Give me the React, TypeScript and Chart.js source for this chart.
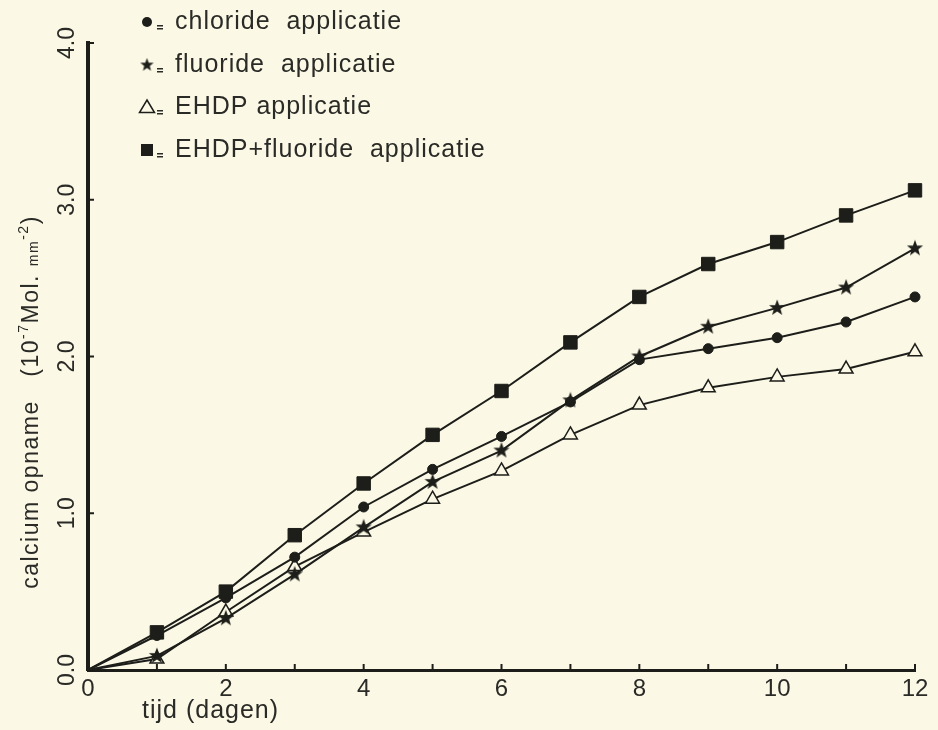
import React, { useEffect, useRef } from "react";
import { Chart, registerables } from "chart.js";

Chart.register(...registerables);

// ---- data ----
const days = [0, 1, 2, 3, 4, 5, 6, 7, 8, 9, 10, 11, 12];
const chloride = [0, 0.22, 0.46, 0.72, 1.04, 1.28, 1.49, 1.71, 1.98, 2.05, 2.12, 2.22, 2.38];
const fluoride = [0, 0.09, 0.33, 0.61, 0.91, 1.2, 1.4, 1.72, 2.0, 2.19, 2.31, 2.44, 2.69];
const ehdp = [0, 0.07, 0.37, 0.66, 0.88, 1.09, 1.27, 1.5, 1.69, 1.8, 1.87, 1.92, 2.03];
const ehdpFluoride = [0, 0.24, 0.5, 0.86, 1.19, 1.5, 1.78, 2.09, 2.38, 2.59, 2.73, 2.9, 3.06];

const xLabelDays = [0, 2, 4, 6, 8, 10, 12];
const yTickValues = [0, 1, 2, 3, 4];
const legendLabels = [
  "chloride  applicatie",
  "fluoride  applicatie",
  "EHDP applicatie",
  "EHDP+fluoride  applicatie",
];
const xTitle = "tijd (dagen)";
const yTitleParts = [
  { t: "calcium opname   (10", sup: false, small: false },
  { t: "-7", sup: true, small: true },
  { t: "Mol. ", sup: false, small: false },
  { t: "mm", sup: false, small: true },
  { t: "-2", sup: true, small: true },
  { t: ")", sup: false, small: false },
];

const BG = "#fbf9e6";
const INK = "#1d1d19";
const FONT = "'Liberation Sans', Arial, Helvetica, sans-serif";

function makeStar(size: number, outer: number, inner: number) {
  const c = document.createElement("canvas");
  c.width = size;
  c.height = size;
  const ctx = c.getContext("2d")!;
  ctx.fillStyle = INK;
  ctx.beginPath();
  for (let i = 0; i < 10; i++) {
    const r = i % 2 === 0 ? outer : inner;
    const a = -Math.PI / 2 + (i * Math.PI) / 5;
    const x = size / 2 + r * Math.cos(a);
    const y = size / 2 + r * Math.sin(a);
    if (i === 0) ctx.moveTo(x, y);
    else ctx.lineTo(x, y);
  }
  ctx.closePath();
  ctx.fill();
  return c;
}

function radii(r: number) {
  return days.map((d) => (d === 0 ? 0 : r));
}

export default function App() {
  const ref = useRef<HTMLCanvasElement | null>(null);

  useEffect(() => {
    const canvas = ref.current;
    if (!canvas) return;
    const star = makeStar(18, 8.5, 3.5);
    const legendStar = makeStar(15, 7, 2.9);

    const decor = {
      id: "decor",
      beforeDraw(chart: any) {
        const ctx = chart.ctx;
        ctx.save();
        ctx.fillStyle = BG;
        ctx.fillRect(0, 0, chart.width, chart.height);
        ctx.restore();
      },
      afterDraw(chart: any) {
        const ctx = chart.ctx;
        const xs = chart.scales.x;
        const ys = chart.scales.y;
        const area = chart.chartArea;
        ctx.save();
        ctx.strokeStyle = INK;
        ctx.lineWidth = 2;
        // x tick marks (pointing up into the plot)
        for (const d of days) {
          const px = xs.getPixelForValue(d);
          ctx.beginPath();
          ctx.moveTo(px, area.bottom);
          ctx.lineTo(px, area.bottom - 6);
          ctx.stroke();
        }
        // y tick marks (pointing right)
        for (const v of yTickValues) {
          if (v === 0) continue;
          const py = ys.getPixelForValue(v);
          ctx.beginPath();
          ctx.moveTo(area.left, py);
          ctx.lineTo(area.left + 6, py);
          ctx.stroke();
        }

        // x title
        ctx.fillStyle = "#2a2a26";
        ctx.font = `25px ${FONT}`;
        (ctx as any).letterSpacing = "1px";
        ctx.textBaseline = "middle";
        ctx.textAlign = "left";
        ctx.fillText(xTitle, 142, 711);

        // y title (rotated)
        ctx.save();
        ctx.translate(30, 402);
        ctx.rotate(-Math.PI / 2);
        (ctx as any).letterSpacing = "1.5px";
        ctx.textBaseline = "alphabetic";
        let total = 0;
        const widths: number[] = [];
        for (const p of yTitleParts) {
          ctx.font = `${p.small ? 14 : 23}px ${FONT}`;
          const w = ctx.measureText(p.t).width;
          widths.push(w);
          total += w;
        }
        let cx = -total / 2;
        yTitleParts.forEach((p, i) => {
          ctx.font = `${p.small ? 14 : 23}px ${FONT}`;
          ctx.fillText(p.t, cx, p.sup ? -2 : 8);
          cx += widths[i];
        });
        ctx.restore();

        // legend
        const rowY = [22, 65, 107, 150];
        const mx = 147;
        rowY.forEach((y, i) => {
          ctx.fillStyle = INK;
          ctx.strokeStyle = INK;
          if (i === 0) {
            ctx.beginPath();
            ctx.arc(mx, y, 5, 0, Math.PI * 2);
            ctx.fill();
          } else if (i === 1) {
            ctx.drawImage(legendStar, mx - 7.5, y - 7.5);
          } else if (i === 2) {
            ctx.lineWidth = 1.5;
            ctx.beginPath();
            ctx.moveTo(mx, y - 7);
            ctx.lineTo(mx + 7.5, y + 5.5);
            ctx.lineTo(mx - 7.5, y + 5.5);
            ctx.closePath();
            ctx.stroke();
          } else {
            ctx.fillRect(mx - 6, y - 6, 12, 12);
          }
          // small "=" sign
          ctx.fillStyle = "#2a2a26";
          ctx.fillRect(mx + 10, y + 3, 6, 1.5);
          ctx.fillRect(mx + 10, y + 6, 6, 1.5);
          ctx.font = `25px ${FONT}`;
          (ctx as any).letterSpacing = "1px";
          ctx.textBaseline = "middle";
          ctx.textAlign = "left";
          ctx.fillText(legendLabels[i], 175, y);
        });
        ctx.restore();
      },
    };

    const mk = (data: number[]) => days.map((d, i) => ({ x: d, y: data[i] }));

    const chart = new Chart(canvas, {
      type: "line",
      data: {
        datasets: [
          {
            label: legendLabels[3],
            data: mk(ehdpFluoride),
            borderColor: INK,
            borderWidth: 2,
            pointStyle: "rect",
            pointRadius: radii(9.5),
            pointBackgroundColor: INK,
            pointBorderColor: INK,
            pointBorderWidth: 1,
            clip: false,
          },
          {
            label: legendLabels[1],
            data: mk(fluoride),
            borderColor: INK,
            borderWidth: 2,
            pointStyle: star as any,
            pointRadius: radii(7),
            pointBackgroundColor: INK,
            clip: false,
          },
          {
            label: legendLabels[0],
            data: mk(chloride),
            borderColor: INK,
            borderWidth: 2,
            pointStyle: "circle",
            pointRadius: radii(5),
            pointBackgroundColor: INK,
            pointBorderColor: INK,
            pointBorderWidth: 1,
            clip: false,
          },
          {
            label: legendLabels[2],
            data: mk(ehdp),
            borderColor: INK,
            borderWidth: 2,
            pointStyle: "triangle",
            pointRadius: radii(8),
            pointBackgroundColor: BG,
            pointBorderColor: INK,
            pointBorderWidth: 1.5,
            clip: false,
          },
        ],
      },
      options: {
        responsive: false,
        animation: false,
        layout: { padding: { left: 0, right: 23, top: 43, bottom: 0 } },
        plugins: {
          legend: { display: false },
          tooltip: { enabled: false },
        },
        scales: {
          x: {
            type: "linear",
            min: 0,
            max: 12,
            afterFit: (s: any) => {
              s.height = 60;
            },
            afterBuildTicks: (s: any) => {
              s.ticks = xLabelDays.map((v) => ({ value: v }));
            },
            ticks: {
              autoSkip: false,
              maxRotation: 0,
              padding: 5,
              color: "#2a2a26",
              font: { size: 24, family: FONT },
              callback: (v: any) => String(v),
            },
            grid: { display: true, drawOnChartArea: false, drawTicks: false },
            border: { display: true, color: INK, width: 3 },
          },
          y: {
            type: "linear",
            min: 0,
            max: 4,
            afterFit: (s: any) => {
              s.width = 88;
            },
            afterBuildTicks: (s: any) => {
              s.ticks = yTickValues.map((v) => ({ value: v }));
            },
            ticks: {
              autoSkip: false,
              minRotation: 90,
              maxRotation: 90,
              crossAlign: "center",
              padding: 4,
              color: "#2a2a26",
              font: { size: 23, family: FONT },
              callback: (v: any) => Number(v).toFixed(1),
            },
            grid: { display: true, drawOnChartArea: false, drawTicks: false },
            border: { display: true, color: INK, width: 4 },
          },
        },
      },
      plugins: [decor],
    } as any);

    return () => chart.destroy();
  }, []);

  return (
    <div style={{ position: "fixed", left: 0, top: 0, width: 938, height: 730, background: BG }}>
      <canvas ref={ref} width={938} height={730} style={{ display: "block" }} />
    </div>
  );
}
